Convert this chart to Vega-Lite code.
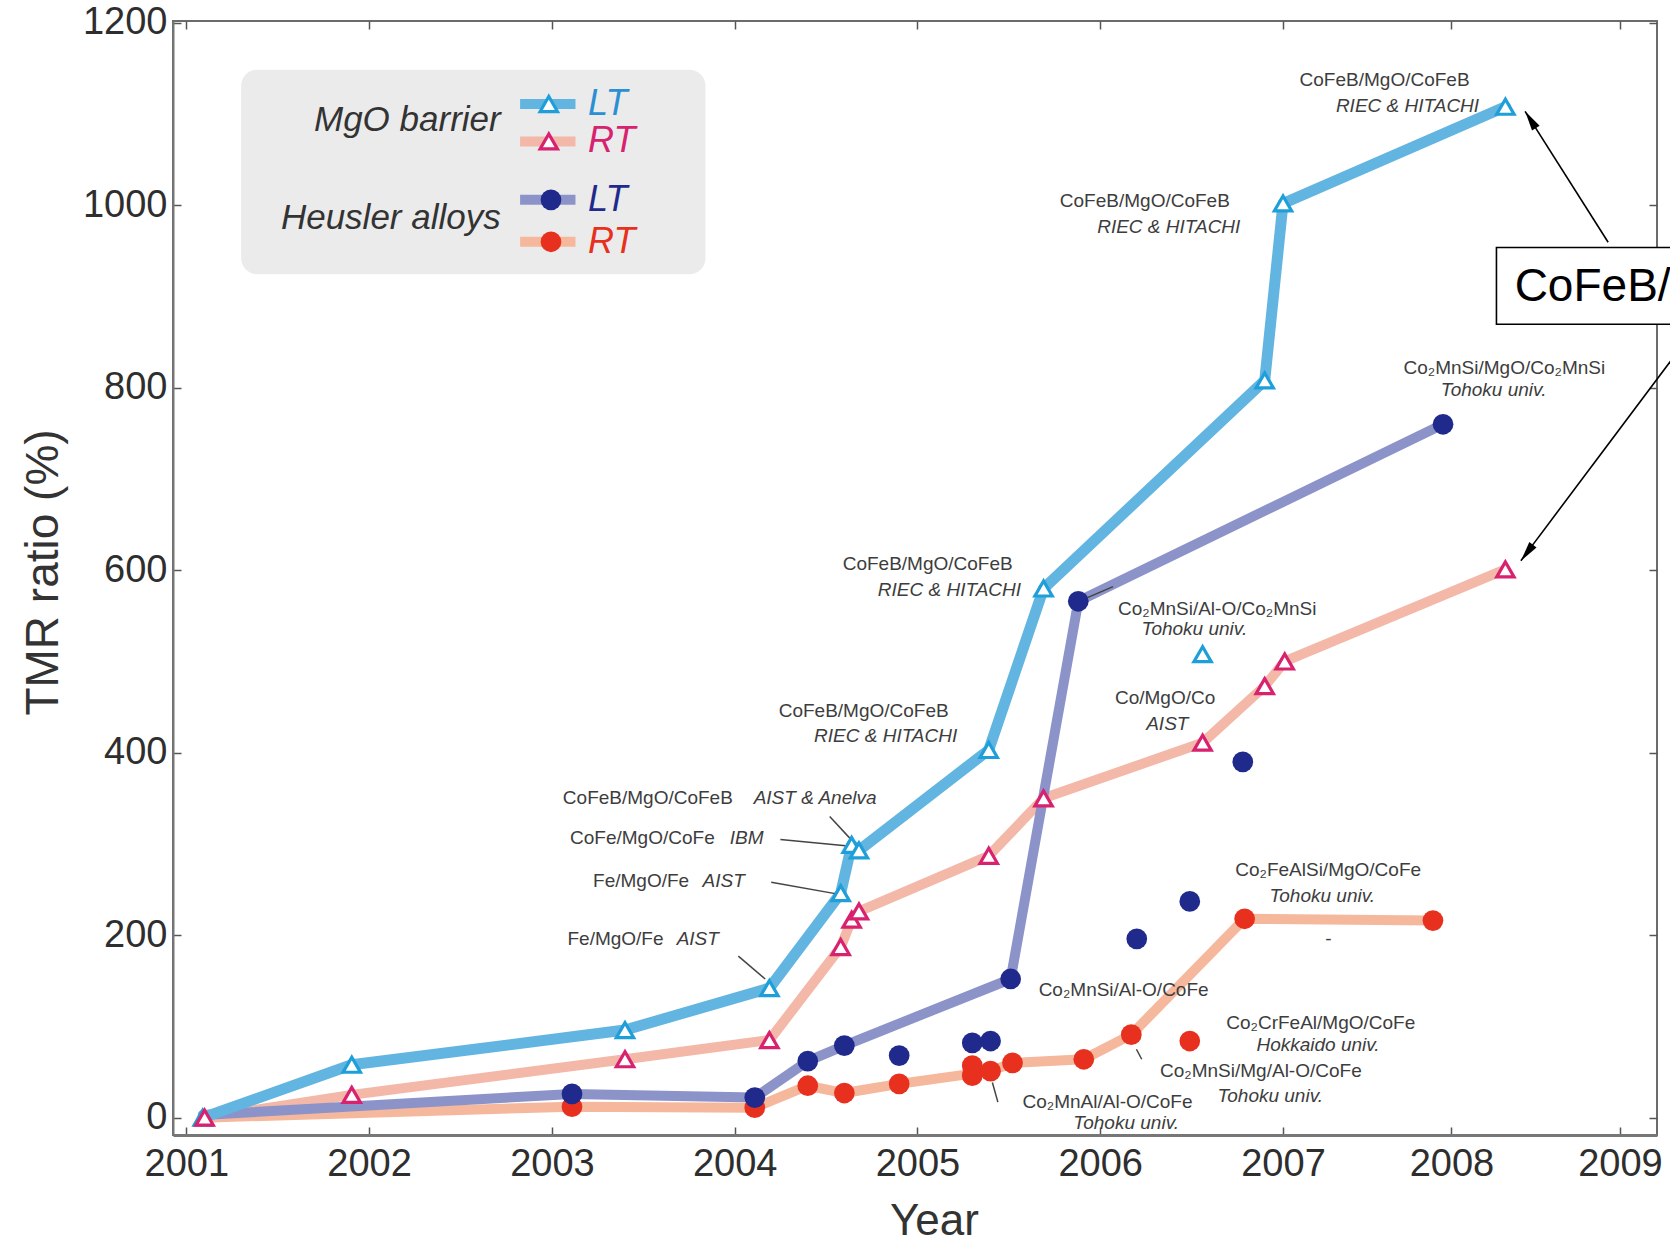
{
  "$schema": "https://vega.github.io/schema/vega-lite/v6.json",
  "autosize": {"type": "none"},
  "width": 1484,
  "height": 1114,
  "padding": {"left": 173, "top": 21, "right": 13, "bottom": 113},
  "background": "white",
  "config": {
    "font": "Liberation Sans",
    "view": {"stroke": "#6b6b6b", "strokeWidth": 2}
  },
  "datasets": {
    "points": [
      {"series": "MgO LT", "year": 2001.09, "tmr": 0, "trend": true},
      {"series": "MgO LT", "year": 2001.905, "tmr": 58, "trend": true},
      {"series": "MgO LT", "year": 2003.40, "tmr": 96, "trend": true},
      {"series": "MgO LT", "year": 2004.19, "tmr": 142, "trend": true},
      {"series": "MgO LT", "year": 2004.58, "tmr": 246, "trend": true},
      {"series": "MgO LT", "year": 2004.64, "tmr": 299, "trend": true},
      {"series": "MgO LT", "year": 2004.68, "tmr": 293, "trend": true},
      {"series": "MgO LT", "year": 2005.39, "tmr": 403, "trend": true},
      {"series": "MgO LT", "year": 2005.69, "tmr": 580, "trend": true},
      {"series": "MgO LT", "year": 2006.56, "tmr": 508, "trend": false},
      {"series": "MgO LT", "year": 2006.90, "tmr": 808, "trend": true},
      {"series": "MgO LT", "year": 2007.00, "tmr": 1002, "trend": true},
      {"series": "MgO LT", "year": 2008.32, "tmr": 1108, "trend": true},
      {"series": "MgO RT", "year": 2001.10, "tmr": 0, "trend": true},
      {"series": "MgO RT", "year": 2001.905, "tmr": 25, "trend": true},
      {"series": "MgO RT", "year": 2003.40, "tmr": 64, "trend": true},
      {"series": "MgO RT", "year": 2004.19, "tmr": 85, "trend": true},
      {"series": "MgO RT", "year": 2004.58, "tmr": 187, "trend": true},
      {"series": "MgO RT", "year": 2004.64, "tmr": 217, "trend": true},
      {"series": "MgO RT", "year": 2004.68, "tmr": 226, "trend": true},
      {"series": "MgO RT", "year": 2005.39, "tmr": 287, "trend": true},
      {"series": "MgO RT", "year": 2005.69, "tmr": 350, "trend": true},
      {"series": "MgO RT", "year": 2006.56, "tmr": 411, "trend": true},
      {"series": "MgO RT", "year": 2006.90, "tmr": 473, "trend": true},
      {"series": "MgO RT", "year": 2007.01, "tmr": 500, "trend": true},
      {"series": "MgO RT", "year": 2008.32, "tmr": 601, "trend": true},
      {"series": "Heusler RT", "year": 2001.09, "tmr": 0, "trend": true},
      {"series": "Heusler RT", "year": 2003.11, "tmr": 12, "trend": true},
      {"series": "Heusler RT", "year": 2004.11, "tmr": 11, "trend": true},
      {"series": "Heusler RT", "year": 2004.40, "tmr": 35, "trend": true},
      {"series": "Heusler RT", "year": 2004.60, "tmr": 27, "trend": true},
      {"series": "Heusler RT", "year": 2004.90, "tmr": 37, "trend": true},
      {"series": "Heusler RT", "year": 2005.30, "tmr": 46, "trend": false},
      {"series": "Heusler RT", "year": 2005.30, "tmr": 57, "trend": false},
      {"series": "Heusler RT", "year": 2005.40, "tmr": 51, "trend": true},
      {"series": "Heusler RT", "year": 2005.52, "tmr": 60, "trend": true},
      {"series": "Heusler RT", "year": 2005.91, "tmr": 64, "trend": true},
      {"series": "Heusler RT", "year": 2006.17, "tmr": 91, "trend": true},
      {"series": "Heusler RT", "year": 2006.49, "tmr": 84, "trend": false},
      {"series": "Heusler RT", "year": 2006.79, "tmr": 218, "trend": true},
      {"series": "Heusler RT", "year": 2007.89, "tmr": 216, "trend": true},
      {"series": "Heusler LT", "year": 2001.09, "tmr": 3, "trend": true},
      {"series": "Heusler LT", "year": 2003.11, "tmr": 26, "trend": true},
      {"series": "Heusler LT", "year": 2004.11, "tmr": 22, "trend": true},
      {"series": "Heusler LT", "year": 2004.40, "tmr": 62, "trend": true},
      {"series": "Heusler LT", "year": 2004.60, "tmr": 79, "trend": true},
      {"series": "Heusler LT", "year": 2004.90, "tmr": 68, "trend": false},
      {"series": "Heusler LT", "year": 2005.30, "tmr": 82, "trend": false},
      {"series": "Heusler LT", "year": 2005.40, "tmr": 84, "trend": false},
      {"series": "Heusler LT", "year": 2005.51, "tmr": 152, "trend": true},
      {"series": "Heusler LT", "year": 2005.88, "tmr": 566, "trend": true},
      {"series": "Heusler LT", "year": 2006.20, "tmr": 196, "trend": false},
      {"series": "Heusler LT", "year": 2006.49, "tmr": 237, "trend": false},
      {"series": "Heusler LT", "year": 2006.78, "tmr": 390, "trend": false},
      {"series": "Heusler LT", "year": 2007.95, "tmr": 760, "trend": true}
    ],
    "leaders": [
      {"year": 2004.52, "tmr": 330, "year2": 2004.65, "tmr2": 302},
      {"year": 2004.25, "tmr": 305, "year2": 2004.607, "tmr2": 298},
      {"year": 2004.2, "tmr": 258, "year2": 2004.565, "tmr2": 245},
      {"year": 2004.02, "tmr": 177, "year2": 2004.167, "tmr2": 152},
      {"year": 2005.93, "tmr": 570, "year2": 2006.07, "tmr2": 582},
      {"year": 2006.198, "tmr": 75, "year2": 2006.227, "tmr2": 64},
      {"year": 2005.41, "tmr": 38.5, "year2": 2005.44, "tmr2": 17}
    ],
    "notes": [
      {"text": "CoFeB/MgO/CoFeB", "year": 2007.603, "tmr": 1137},
      {"text": "CoFeB/MgO/CoFeB", "year": 2006.244, "tmr": 1005},
      {"text": "Co₂MnSi/MgO/Co₂MnSi", "year": 2008.314, "tmr": 822},
      {"text": "CoFeB/MgO/CoFeB", "year": 2005.056, "tmr": 607},
      {"text": "Co₂MnSi/Al-O/Co₂MnSi", "year": 2006.64, "tmr": 557},
      {"text": "Co/MgO/Co", "year": 2006.355, "tmr": 460},
      {"text": "CoFeB/MgO/CoFeB", "year": 2004.706, "tmr": 446},
      {"text": "CoFeB/MgO/CoFeB", "year": 2003.525, "tmr": 350},
      {"text": "CoFe/MgO/CoFe", "year": 2003.495, "tmr": 307},
      {"text": "Fe/MgO/Fe", "year": 2003.488, "tmr": 259},
      {"text": "Fe/MgO/Fe", "year": 2003.348, "tmr": 196},
      {"text": "Co₂FeAlSi/MgO/CoFe", "year": 2007.268, "tmr": 271},
      {"text": "Co₂MnSi/Al-O/CoFe", "year": 2006.128, "tmr": 140},
      {"text": "Co₂CrFeAl/MgO/CoFe", "year": 2007.224, "tmr": 104},
      {"text": "Co₂MnSi/Mg/Al-O/CoFe", "year": 2006.879, "tmr": 51},
      {"text": "Co₂MnAl/Al-O/CoFe", "year": 2006.04, "tmr": 17},
      {"text": "-", "year": 2007.27, "tmr": 196}
    ],
    "notesItalic": [
      {"text": "RIEC & HITACHI", "year": 2007.739, "tmr": 1109},
      {"text": "RIEC & HITACHI", "year": 2006.375, "tmr": 976},
      {"text": "Tohoku univ.", "year": 2008.25, "tmr": 798},
      {"text": "RIEC & HITACHI", "year": 2005.175, "tmr": 578},
      {"text": "Tohoku univ.", "year": 2006.515, "tmr": 536},
      {"text": "AIST", "year": 2006.367, "tmr": 431},
      {"text": "RIEC & HITACHI", "year": 2004.826, "tmr": 418},
      {"text": "AIST & Anelva", "year": 2004.44, "tmr": 350},
      {"text": "IBM", "year": 2004.066, "tmr": 307},
      {"text": "AIST", "year": 2003.94, "tmr": 259},
      {"text": "AIST", "year": 2003.798, "tmr": 196},
      {"text": "Tohoku univ.", "year": 2007.233, "tmr": 243},
      {"text": "Hokkaido univ.", "year": 2007.208, "tmr": 80},
      {"text": "Tohoku univ.", "year": 2006.93, "tmr": 24},
      {"text": "Tohoku univ.", "year": 2006.142, "tmr": -6}
    ],
    "legendRows": [
      {"series": "MgO LT", "label": "LT", "ly": 1111},
      {"series": "MgO RT", "label": "RT", "ly": 1070},
      {"series": "Heusler LT", "label": "LT", "ly": 1006},
      {"series": "Heusler RT", "label": "RT", "ly": 960}
    ],
    "legendTitles": [
      {"text": "MgO barrier", "ly": 1094},
      {"text": "Heusler alloys", "ly": 986}
    ],
    "arrows": [
      {"year": 2008.93, "tmr": 959.5, "year2": 2008.437, "tmr2": 1103},
      {"year": 2009.30, "tmr": 829, "year2": 2008.412, "tmr2": 610.5}
    ]
  },
  "layer": [
    {
      "layer": [
        {
          "data": {"name": "points"},
          "transform": [{"filter": "datum.series == 'Heusler RT' && datum.trend"}],
          "mark": {"type": "line", "strokeWidth": 10, "strokeCap": "round", "strokeJoin": "round"},
          "encoding": {
            "x": {
              "field": "year", "type": "quantitative",
              "scale": {"domain": [2000.927, 2007, 2009.22], "range": [0, 1110, 1484], "nice": false, "zero": false},
              "axis": {
                "values": [2001, 2002, 2003, 2004, 2005, 2006, 2007, 2008, 2009],
                "format": "d", "grid": false, "labelFlush": false, "labelOverlap": false,
                "labelFontSize": 38, "labelColor": "#2e2e2e", "labelPadding": 18,
                "tickSize": -8, "tickColor": "#555", "tickWidth": 1.5,
                "domainColor": "#777", "domainWidth": 3,
                "title": "Year", "titleFontSize": 44, "titleFontWeight": "normal", "titleColor": "#333",
                "titleX": 761, "titleY": 86, "titleBaseline": "middle", "titleAlign": "center"
              }
            },
            "y": {
              "field": "tmr", "type": "quantitative",
              "scale": {"domain": [-19, 1202], "nice": false, "zero": false},
              "axis": {
                "values": [0, 200, 400, 600, 800, 1000, 1200],
                "format": "d", "grid": false, "labelFlush": false, "labelOverlap": false,
                "labelFontSize": 38, "labelColor": "#2e2e2e", "labelPadding": 14,
                "tickSize": -8, "tickColor": "#555", "tickWidth": 1.5,
                "domainColor": "#777", "domainWidth": 2,
                "title": "TMR ratio (%)", "titleFontSize": 46, "titleFontWeight": "normal", "titleColor": "#333",
                "titleX": -130, "titleY": 551, "titleBaseline": "middle", "titleAlign": "center", "titleAngle": -90
              }
            },
            "color": {
              "field": "series", "type": "nominal",
              "scale": {"domain": ["MgO LT", "MgO RT", "Heusler LT", "Heusler RT"], "range": ["#62b5e0", "#f3b8a8", "#8c93c9", "#f6b89c"]},
              "legend": null
            }
          }
        },
        {
          "data": {"name": "points"},
          "transform": [{"filter": "datum.series == 'MgO RT' && datum.trend"}],
          "mark": {"type": "line", "strokeWidth": 10, "strokeCap": "round", "strokeJoin": "round"},
          "encoding": {
            "x": {"field": "year", "type": "quantitative"},
            "y": {"field": "tmr", "type": "quantitative"},
            "color": {"field": "series", "type": "nominal", "legend": null}
          }
        },
        {
          "data": {"name": "points"},
          "transform": [{"filter": "datum.series == 'Heusler LT' && datum.trend"}],
          "mark": {"type": "line", "strokeWidth": 10, "strokeCap": "round", "strokeJoin": "round"},
          "encoding": {
            "x": {"field": "year", "type": "quantitative"},
            "y": {"field": "tmr", "type": "quantitative"},
            "color": {"field": "series", "type": "nominal", "legend": null}
          }
        },
        {
          "data": {"name": "points"},
          "transform": [{"filter": "datum.series == 'MgO LT' && datum.trend"}],
          "mark": {"type": "line", "strokeWidth": 11, "strokeCap": "round", "strokeJoin": "round"},
          "encoding": {
            "x": {"field": "year", "type": "quantitative"},
            "y": {"field": "tmr", "type": "quantitative"},
            "color": {"field": "series", "type": "nominal", "legend": null}
          }
        },
        {
          "data": {"values": [{"box": "legend"}]},
          "mark": {"type": "rect", "fill": "#ebebeb", "cornerRadius": 16},
          "encoding": {
            "x": {"datum": 2001.30},
            "x2": {"datum": 2003.84},
            "y": {"datum": 1148.6},
            "y2": {"datum": 924.5}
          }
        },
        {
          "data": {"name": "leaders"},
          "mark": {"type": "rule", "color": "#444", "strokeWidth": 1.5},
          "encoding": {
            "x": {"field": "year", "type": "quantitative"},
            "y": {"field": "tmr", "type": "quantitative"},
            "x2": {"field": "year2"},
            "y2": {"field": "tmr2"}
          }
        },
        {
          "data": {"name": "points"},
          "transform": [{"filter": "(datum.series == 'Heusler LT' || datum.series == 'Heusler RT') && datum.year > 2002"}],
          "mark": {"type": "point", "shape": "circle", "filled": true, "size": 430, "opacity": 1, "strokeWidth": 0},
          "encoding": {
            "x": {"field": "year", "type": "quantitative"},
            "y": {"field": "tmr", "type": "quantitative"},
            "fill": {
              "field": "series", "type": "nominal",
              "scale": {"domain": ["MgO LT", "MgO RT", "Heusler LT", "Heusler RT"], "range": ["#2a8fd3", "#d6226f", "#1f2a8c", "#e8301f"]},
              "legend": null
            }
          }
        },
        {
          "data": {"name": "points"},
          "transform": [{"filter": "datum.series == 'MgO LT' || datum.series == 'MgO RT'"}],
          "mark": {"type": "point", "shape": "triangle-up", "filled": false, "fill": "white", "fillOpacity": 1, "size": 300, "opacity": 1, "strokeWidth": 3.2},
          "encoding": {
            "x": {"field": "year", "type": "quantitative"},
            "y": {"field": "tmr", "type": "quantitative"},
            "stroke": {
              "field": "series", "type": "nominal",
              "scale": {"domain": ["MgO LT", "MgO RT", "Heusler LT", "Heusler RT"], "range": ["#1e9fd9", "#d8216f", "#1c2588", "#e8241d"]},
              "legend": null
            }
          }
        },
        {
          "data": {"name": "legendRows"},
          "mark": {"type": "rule", "strokeWidth": 10},
          "encoding": {
            "x": {"datum": 2002.826},
            "x2": {"datum": 2003.129},
            "y": {"field": "ly", "type": "quantitative"},
            "color": {"field": "series", "type": "nominal", "legend": null}
          }
        },
        {
          "data": {"name": "legendRows"},
          "transform": [{"filter": "datum.series == 'MgO LT' || datum.series == 'MgO RT'"}],
          "mark": {"type": "point", "shape": "triangle-up", "filled": false, "fill": "white", "fillOpacity": 1, "size": 300, "opacity": 1, "strokeWidth": 3.2},
          "encoding": {
            "x": {"datum": 2002.983},
            "y": {"field": "ly", "type": "quantitative"},
            "stroke": {"field": "series", "type": "nominal", "legend": null}
          }
        },
        {
          "data": {"name": "legendRows"},
          "transform": [{"filter": "datum.series == 'Heusler LT' || datum.series == 'Heusler RT'"}],
          "mark": {"type": "point", "shape": "circle", "filled": true, "size": 430, "opacity": 1, "strokeWidth": 0},
          "encoding": {
            "x": {"datum": 2002.995},
            "y": {"field": "ly", "type": "quantitative"},
            "fill": {"field": "series", "type": "nominal", "legend": null}
          }
        },
        {
          "data": {"name": "legendRows"},
          "mark": {"type": "text", "align": "left", "baseline": "middle", "fontSize": 36, "fontStyle": "italic"},
          "encoding": {
            "x": {"datum": 2003.198},
            "y": {"field": "ly", "type": "quantitative"},
            "text": {"field": "label"},
            "fill": {"field": "series", "type": "nominal", "legend": null}
          }
        },
        {
          "data": {"name": "legendTitles"},
          "mark": {"type": "text", "align": "right", "baseline": "middle", "fontSize": 35, "fontStyle": "italic", "color": "#333"},
          "encoding": {
            "x": {"datum": 2002.72},
            "y": {"field": "ly", "type": "quantitative"},
            "text": {"field": "text"}
          }
        },
        {
          "data": {"name": "notes"},
          "mark": {"type": "text", "align": "center", "baseline": "middle", "fontSize": 19, "color": "#3d3d3d"},
          "encoding": {
            "x": {"field": "year", "type": "quantitative"},
            "y": {"field": "tmr", "type": "quantitative"},
            "text": {"field": "text"}
          }
        },
        {
          "data": {"name": "notesItalic"},
          "mark": {"type": "text", "align": "center", "baseline": "middle", "fontSize": 19, "fontStyle": "italic", "color": "#3d3d3d"},
          "encoding": {
            "x": {"field": "year", "type": "quantitative"},
            "y": {"field": "tmr", "type": "quantitative"},
            "text": {"field": "text"}
          }
        },
        {
          "data": {"name": "arrows"},
          "mark": {"type": "rule", "color": "black", "strokeWidth": 1.6},
          "encoding": {
            "x": {"field": "year", "type": "quantitative"},
            "y": {"field": "tmr", "type": "quantitative"},
            "x2": {"field": "year2"},
            "y2": {"field": "tmr2"}
          }
        },
        {
          "data": {"values": [{"head": 1}]},
          "mark": {"type": "point", "shape": "M0,-1L0.45,1L-0.45,1Z", "size": 400, "filled": true, "color": "black", "opacity": 1, "angle": -32.4},
          "encoding": {"x": {"datum": 2008.469}, "y": {"datum": 1093.8}}
        },
        {
          "data": {"values": [{"head": 2}]},
          "mark": {"type": "point", "shape": "M0,-1L0.45,1L-0.45,1Z", "size": 400, "filled": true, "color": "black", "opacity": 1, "angle": 216.8},
          "encoding": {"x": {"datum": 2008.448}, "y": {"datum": 619.2}}
        },
        {
          "data": {"values": [{"box": "note"}]},
          "mark": {"type": "rect", "fill": "white", "stroke": "black", "strokeWidth": 1.6},
          "encoding": {
            "x": {"datum": 2008.267},
            "x2": {"datum": 2009.6},
            "y": {"datum": 953.7},
            "y2": {"datum": 869.6}
          }
        },
        {
          "data": {"values": [{"text": "CoFeB/MgO/CoFeB"}]},
          "mark": {"type": "text", "align": "left", "baseline": "middle", "fontSize": 46, "color": "black"},
          "encoding": {
            "x": {"datum": 2008.375},
            "y": {"datum": 910.5},
            "text": {"field": "text"}
          }
        }
      ]
    },
    {
      "data": {"values": [{"year": 2001, "tmr": 0}]},
      "mark": {"type": "point", "opacity": 0},
      "encoding": {
        "x": {
          "field": "year", "type": "quantitative",
          "axis": {"orient": "top", "values": [2001, 2002, 2003, 2004, 2005, 2006, 2007, 2008, 2009], "labels": false, "title": null, "domain": false, "grid": false, "tickSize": -8, "tickColor": "#555", "tickWidth": 1.5}
        },
        "y": {
          "field": "tmr", "type": "quantitative",
          "axis": {"orient": "right", "values": [0, 200, 400, 600, 800, 1000, 1200], "labels": false, "title": null, "domain": false, "grid": false, "tickSize": -8, "tickColor": "#555", "tickWidth": 1.5}
        }
      }
    }
  ],
  "resolve": {"axis": {"x": "independent", "y": "independent"}}
}
